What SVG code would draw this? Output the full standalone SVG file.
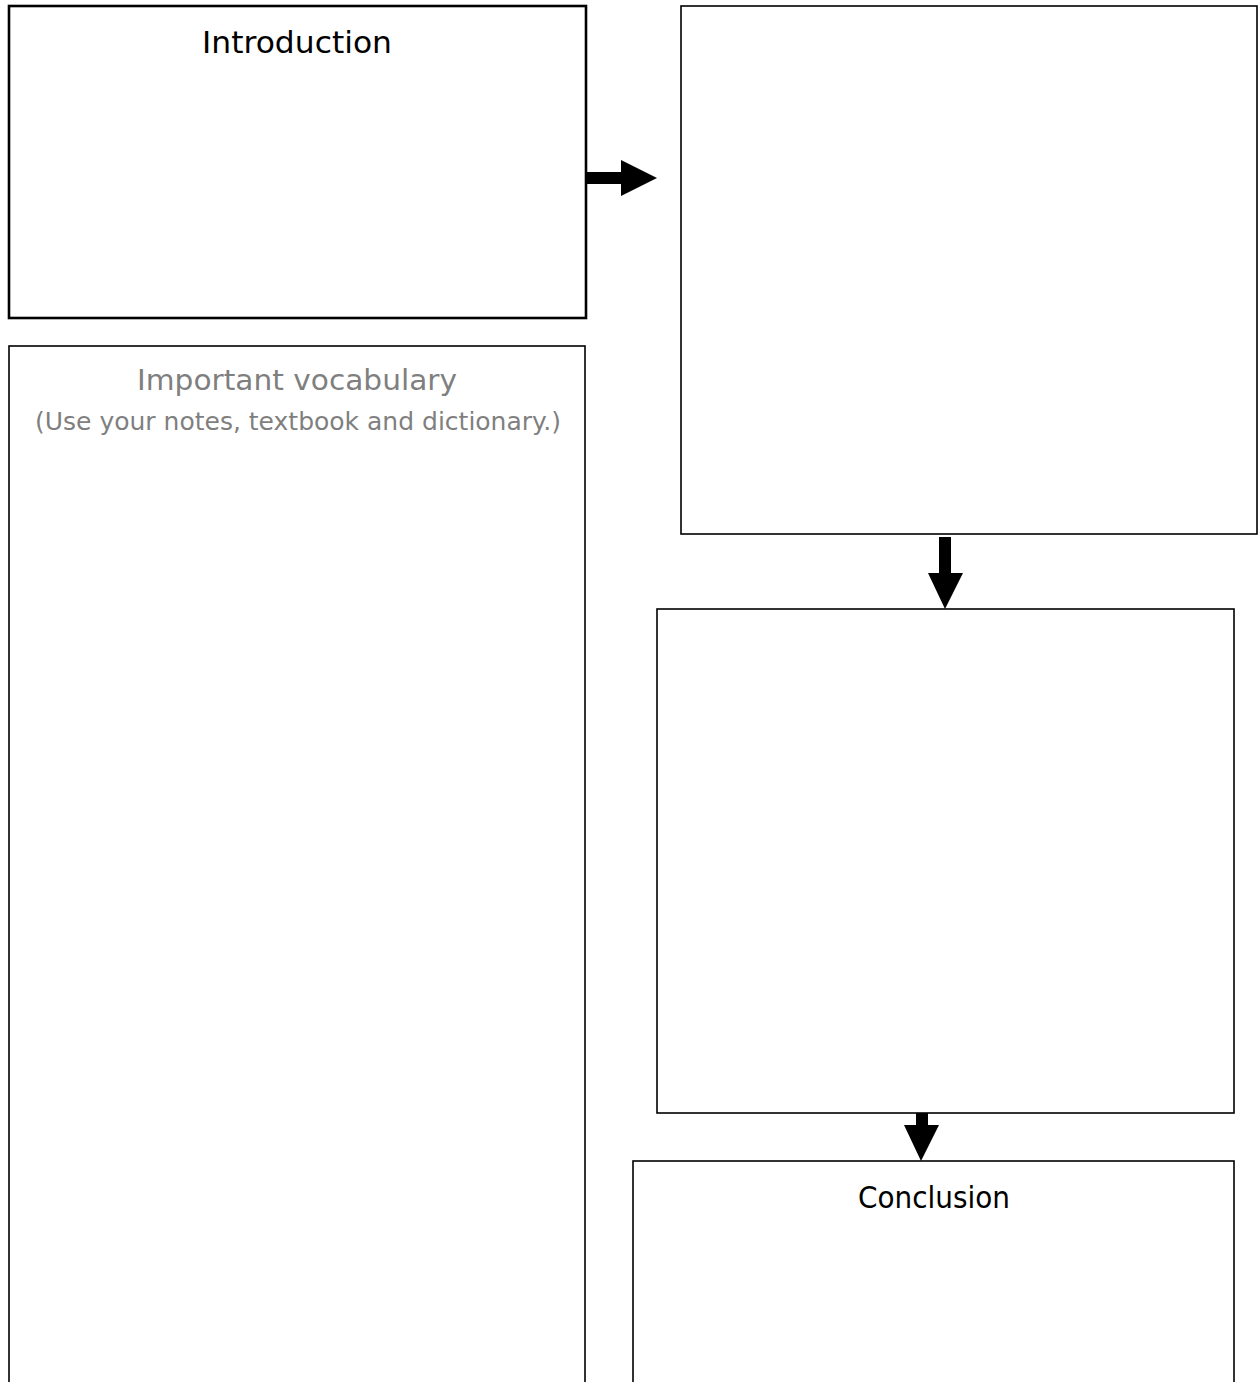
<svg xmlns="http://www.w3.org/2000/svg" width="1258" height="1382" viewBox="0 0 1258 1382">
<style>
.box{fill:#fff;stroke:#000;stroke-width:1.6}
.thick{stroke-width:2.6}
.t{font-family:"DejaVu Sans","Liberation Sans",sans-serif;text-anchor:middle;fill:#000}
.g{fill:#7f7f7f}
.arr{fill:#000;stroke:none}
</style>
<rect width="1258" height="1382" fill="#fff"/>
<g id="introduction">
<rect class="box thick" x="9" y="6" width="577" height="312"/>
<text class="t" x="297" y="53" font-size="31" textLength="190" lengthAdjust="spacingAndGlyphs">Introduction</text>
</g>
<g id="vocabulary">
<rect class="box" x="9" y="346" width="576" height="1100"/>
<text class="t g" x="297" y="390" font-size="29" textLength="320" lengthAdjust="spacingAndGlyphs">Important vocabulary</text>
<text class="t g" x="298" y="430" font-size="24" textLength="526" lengthAdjust="spacingAndGlyphs">(Use your notes, textbook and dictionary.)</text>
</g>
<g id="box2">
<rect class="box" x="681" y="6" width="576" height="528"/>
</g>
<g id="box3">
<rect class="box" x="657" y="609" width="577" height="504"/>
</g>
<g id="conclusion">
<rect class="box" x="633" y="1161" width="601" height="300"/>
<text class="t" x="934" y="1208" font-size="31" textLength="152" lengthAdjust="spacingAndGlyphs">Conclusion</text>
</g>
<g id="connectors">
<polygon class="arr" points="587,172 621,172 621,160 657,178 621,196 621,184 587,184"/>
<polygon class="arr" points="939,537 951,537 951,573 963,573 945,609 928,573 939,573"/>
<polygon class="arr" points="916,1113 928,1113 928,1125 939,1125 921,1161 904,1125 916,1125"/>
</g>
</svg>
